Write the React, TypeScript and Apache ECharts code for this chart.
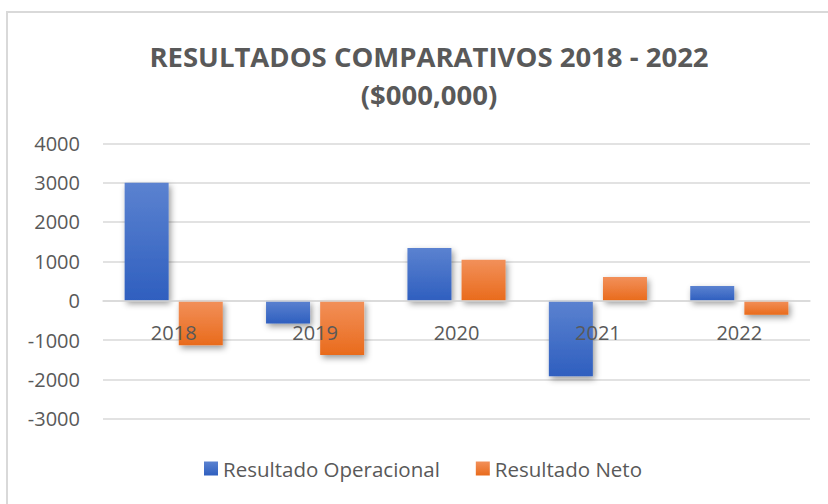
import React, { useEffect, useRef } from "react";
import * as echarts from "echarts";

const categories = ["2018", "2019", "2020", "2021", "2022"];
const operacional = [3000, -580, 1340, -1920, 370];
const neto = [-1130, -1380, 1040, 600, -360];
const seriesNames = ["Resultado Operacional", "Resultado Neto"];
const titleText = "RESULTADOS COMPARATIVOS 2018 - 2022\n($000,000)";

const FONT = "'Open Sans', sans-serif";
const GRAY = "#595959";

export default function App() {
  const ref = useRef<HTMLDivElement>(null);
  useEffect(() => {
    if (!ref.current) return;
    const chart = echarts.init(ref.current, undefined, { renderer: "svg" });
    const grad = (top: string, bottom: string) =>
      new echarts.graphic.LinearGradient(0, 0, 0, 1, [
        { offset: 0, color: top },
        { offset: 1, color: bottom },
      ]);
    const shadow = {
      shadowBlur: 6,
      shadowColor: "rgba(0,0,0,0.4)",
      shadowOffsetX: 2,
      shadowOffsetY: 3,
    };
    chart.setOption({
      animation: false,
      backgroundColor: "#ffffff",
      graphic: [
        {
          type: "rect",
          z: -10,
          shape: { x: 7, y: 12, width: 900, height: 600 },
          style: { fill: "none", stroke: "#d9d9d9", lineWidth: 2 },
        },
      ],
      title: {
        text: titleText,
        left: 424,
        top: 32,
        textAlign: "center",
        textStyle: {
          fontFamily: FONT,
          fontSize: 27.5,
          fontWeight: "bold",
          color: GRAY,
          lineHeight: 38,
        },
      },
      legend: {
        data: seriesNames,
        left: 199,
        top: 453,
        itemWidth: 14,
        itemHeight: 14,
        itemGap: 36,
        icon: "rect",
        textStyle: { fontFamily: FONT, fontSize: 20.5, color: GRAY },
      },
      grid: { left: 103, right: 18, top: 143.3, bottom: 85.3, containLabel: false },
      xAxis: {
        type: "category",
        data: categories,
        z: 5,
        offset: -118,
        axisTick: { show: false },
        axisLine: { onZero: false, lineStyle: { color: "#d9d9d9", width: 1.5 } },
        axisLabel: { fontFamily: FONT, fontSize: 20, color: GRAY, margin: 22 },
      },
      yAxis: {
        type: "value",
        min: -3000,
        max: 4000,
        interval: 1000,
        axisLine: { show: false },
        axisTick: { show: false },
        splitLine: { lineStyle: { color: "#d9d9d9", width: 1.5 } },
        axisLabel: {
          fontFamily: FONT,
          fontSize: 20,
          color: GRAY,
          margin: 23,
          formatter: (v: number) => String(v),
        },
      },
      series: [
        {
          name: seriesNames[0],
          type: "bar",
          data: operacional,
          barWidth: 44,
          barGap: "23%",
          itemStyle: { color: grad("#5b82d0", "#2f5fbf"), ...shadow },
        },
        {
          name: seriesNames[1],
          type: "bar",
          data: neto,
          barWidth: 44,
          itemStyle: { color: grad("#f2905a", "#e96b1c"), ...shadow },
        },
      ],
    });
    return () => chart.dispose();
  }, []);
  return (
    <div
      ref={ref}
      style={{ position: "fixed", left: 0, top: 0, width: 828, height: 504 }}
    />
  );
}
